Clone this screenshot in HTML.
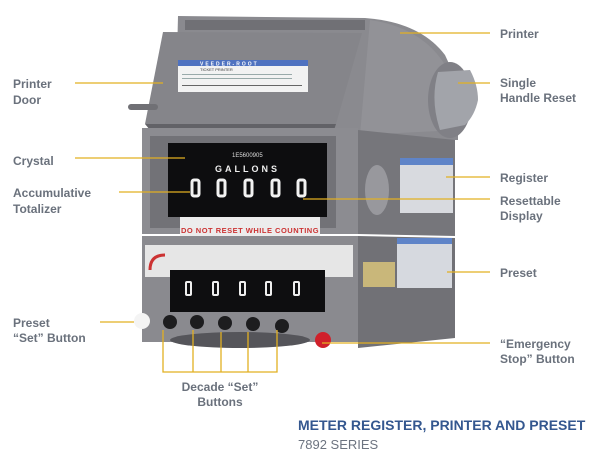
<!DOCTYPE html>
<html><head><meta charset="utf-8"><style>
html,body{margin:0;padding:0;background:#fff}
svg{display:block}
.l{font:bold 12px "Liberation Sans",sans-serif;fill:#6a717c}
.y{stroke:#e2b022;stroke-width:1.3;fill:none}
</style></head><body>
<svg width="600" height="470" viewBox="0 0 600 470">
<path d="M178,16 L365,18 Q420,22 445,55 Q458,80 458,130 L458,140 L175,140 Z" fill="#8a8a8f"/>
<path d="M370,20 Q425,28 448,70 L458,130 L360,135 Z" fill="#929297"/>
<rect x="185" y="20" width="180" height="10" fill="#707075"/>
<path d="M163,32 L362,33 L336,124 L145,124 Z" fill="#85858a"/>
<path d="M145,124 L336,124 L334,130 L150,130 Z" fill="#626267"/>
<rect x="128" y="104" width="30" height="6" rx="3" fill="#707075"/>
<rect x="178" y="60" width="130" height="32" fill="#f2f2f2"/>
<rect x="178" y="60" width="130" height="6" fill="#4f72c0"/>
<text x="200" y="65.5" font-family="Liberation Sans" font-size="5" fill="#fff" font-weight="bold" letter-spacing="2">VEEDER-ROOT</text>
<text x="200" y="71" font-family="Liberation Sans" font-size="4" fill="#333">TICKET PRINTER</text>
<rect x="182" y="74" width="110" height="1" fill="#9aa"/><rect x="182" y="78" width="110" height="1" fill="#9aa"/>
<rect x="182" y="85" width="120" height="1" fill="#666"/>
<ellipse cx="450" cy="100" rx="22" ry="38" fill="#808086"/>
<path d="M438,72 L470,70 Q478,85 478,100 Q475,115 465,125 L440,130 Q430,100 438,72 Z" fill="#a2a4aa"/>
<rect x="142" y="128" width="216" height="106" fill="#8c8c91"/>
<path d="M358,130 L455,140 L455,236 L358,234 Z" fill="#76767b"/>
<rect x="150" y="136" width="186" height="92" fill="#727277"/>
<rect x="168" y="143" width="159" height="74" fill="#0d0d0f"/>
<text x="232" y="157" font-family="Liberation Sans" font-size="6" fill="#ddd">1E5600905</text>
<text x="215" y="172" font-family="Liberation Sans" font-size="9" fill="#eee" font-weight="bold" letter-spacing="3">GALLONS</text>
<g fill="none" stroke="#f2f2f2" stroke-width="3">
<rect x="192" y="180" width="7" height="16" rx="2"/><rect x="218" y="180" width="7" height="16" rx="2"/>
<rect x="245" y="180" width="7" height="16" rx="2"/><rect x="272" y="180" width="7" height="16" rx="2"/>
<rect x="298" y="180" width="7" height="16" rx="2"/></g>
<rect x="180" y="217" width="140" height="25" fill="#ececec"/>
<text x="250" y="233" text-anchor="middle" font-family="Liberation Sans" font-size="7.5" font-weight="bold" fill="#c33" letter-spacing="0.5">DO NOT RESET WHILE COUNTING</text>
<ellipse cx="377" cy="190" rx="12" ry="25" fill="#98989d"/>
<rect x="400" y="158" width="53" height="55" fill="#d8dadf"/>
<rect x="400" y="158" width="53" height="7" fill="#5f84c8"/>
<rect x="142" y="236" width="216" height="106" fill="#8a8a8f"/>
<path d="M358,236 L455,238 L455,338 L358,348 Z" fill="#717176"/>
<rect x="145" y="245" width="208" height="32" fill="#e6e6e6"/>
<path d="M150,270 Q150,255 165,255" stroke="#c33" stroke-width="3" fill="none"/>
<rect x="170" y="270" width="155" height="42" fill="#0e0e10"/>
<g fill="none" stroke="#eee" stroke-width="2">
<rect x="186" y="282" width="5" height="13" rx="1"/><rect x="213" y="282" width="5" height="13" rx="1"/>
<rect x="240" y="282" width="5" height="13" rx="1"/><rect x="266" y="282" width="5" height="13" rx="1"/>
<rect x="294" y="282" width="5" height="13" rx="1"/></g>
<rect x="397" y="238" width="55" height="50" fill="#d6d9df"/>
<rect x="397" y="238" width="55" height="6" fill="#5f84c8"/>
<rect x="363" y="262" width="32" height="25" fill="#c9b77a"/>
<ellipse cx="240" cy="340" rx="70" ry="8" fill="#55555a"/>
<circle cx="142" cy="321" r="8" fill="#f4f4f4"/>
<g fill="#1d1d1f"><circle cx="170" cy="322" r="7"/><circle cx="197" cy="322" r="7"/><circle cx="225" cy="323" r="7"/><circle cx="253" cy="324" r="7"/><circle cx="282" cy="326" r="7"/></g>
<circle cx="323" cy="340" r="8" fill="#d0202a"/>
<line class="y" x1="400" y1="33" x2="490" y2="33"/>
<line class="y" x1="458" y1="83" x2="490" y2="83"/>
<line class="y" x1="446" y1="177" x2="490" y2="177"/>
<line class="y" x1="303" y1="199" x2="490" y2="199"/>
<line class="y" x1="447" y1="272" x2="490" y2="272"/>
<line class="y" x1="322" y1="343" x2="490" y2="343"/>
<line class="y" x1="75" y1="83" x2="163" y2="83"/>
<line class="y" x1="75" y1="158" x2="185" y2="158"/>
<line class="y" x1="119" y1="192" x2="190" y2="192"/>
<line class="y" x1="100" y1="322" x2="134" y2="322"/>
<path class="y" d="M163,330 V372 H277 V330 M193,330 V372 M221,332 V372 M248,332 V372"/>
<text class="l" x="500" y="38">Printer</text>
<text class="l" x="500" y="87">Single</text><text class="l" x="500" y="102">Handle Reset</text>
<text class="l" x="500" y="182">Register</text>
<text class="l" x="500" y="205">Resettable</text><text class="l" x="500" y="220">Display</text>
<text class="l" x="500" y="277">Preset</text>
<text class="l" x="500" y="348">“Emergency</text><text class="l" x="500" y="363">Stop” Button</text>
<text class="l" x="13" y="88">Printer</text><text class="l" x="13" y="104">Door</text>
<text class="l" x="13" y="165">Crystal</text>
<text class="l" x="13" y="197">Accumulative</text><text class="l" x="13" y="213">Totalizer</text>
<text class="l" x="13" y="327">Preset</text><text class="l" x="13" y="342">“Set” Button</text>
<text class="l" x="220" y="391" text-anchor="middle">Decade “Set”</text>
<text class="l" x="220" y="406" text-anchor="middle">Buttons</text>
<text x="298" y="430" font-family="Liberation Sans" font-size="14" font-weight="bold" fill="#34578f">METER REGISTER, PRINTER AND PRESET</text>
<text x="298" y="449" font-family="Liberation Sans" font-size="13" fill="#6d7480">7892 SERIES</text>
</svg>
</body></html>
